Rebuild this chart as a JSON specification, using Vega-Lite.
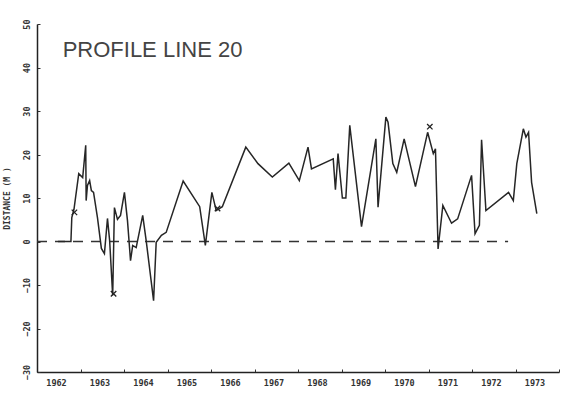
{
  "$schema": "https://vega.github.io/schema/vega-lite/v6.json",
  "width": 522,
  "height": 348,
  "autosize": "none",
  "padding": {"left": 37, "top": 24, "right": 2, "bottom": 21},
  "background": "white",
  "config": {"view": {"stroke": null}},
  "datasets": {
    "profile": [
      {"year": 1962.48, "dist": 0},
      {"year": 1962.78, "dist": 0},
      {"year": 1962.80, "dist": 5.5},
      {"year": 1962.85, "dist": 7.4},
      {"year": 1962.96, "dist": 15.6},
      {"year": 1963.05, "dist": 14.7},
      {"year": 1963.12, "dist": 22.1},
      {"year": 1963.13, "dist": 9.4},
      {"year": 1963.16, "dist": 12.9},
      {"year": 1963.21, "dist": 14.0},
      {"year": 1963.25, "dist": 11.7},
      {"year": 1963.30, "dist": 11.3},
      {"year": 1963.39, "dist": 5.5},
      {"year": 1963.48, "dist": -1.6},
      {"year": 1963.55, "dist": -2.8},
      {"year": 1963.62, "dist": 5.3},
      {"year": 1963.67, "dist": 0.2},
      {"year": 1963.74, "dist": -12.4},
      {"year": 1963.78, "dist": 7.8},
      {"year": 1963.85, "dist": 5.1},
      {"year": 1963.92, "dist": 6.0},
      {"year": 1964.01, "dist": 11.3},
      {"year": 1964.08, "dist": 4.8},
      {"year": 1964.15, "dist": -4.4},
      {"year": 1964.20, "dist": -0.9},
      {"year": 1964.28, "dist": -1.4},
      {"year": 1964.43, "dist": 6.0},
      {"year": 1964.51, "dist": 0.2},
      {"year": 1964.68, "dist": -13.6},
      {"year": 1964.74, "dist": -0.2},
      {"year": 1964.86, "dist": 1.4},
      {"year": 1964.97, "dist": 2.1},
      {"year": 1965.36, "dist": 13.9},
      {"year": 1965.74, "dist": 8.0},
      {"year": 1965.87, "dist": -0.9},
      {"year": 1966.02, "dist": 11.3},
      {"year": 1966.12, "dist": 7.1},
      {"year": 1966.26, "dist": 8.0},
      {"year": 1966.80, "dist": 21.7},
      {"year": 1967.08, "dist": 17.9},
      {"year": 1967.41, "dist": 14.8},
      {"year": 1967.79, "dist": 18.0},
      {"year": 1968.03, "dist": 14.0},
      {"year": 1968.23, "dist": 21.7},
      {"year": 1968.31, "dist": 16.7},
      {"year": 1968.81, "dist": 19.0},
      {"year": 1968.86, "dist": 11.9},
      {"year": 1968.92, "dist": 20.2},
      {"year": 1969.02, "dist": 10.0},
      {"year": 1969.10, "dist": 10.0},
      {"year": 1969.19, "dist": 26.7},
      {"year": 1969.46, "dist": 3.4},
      {"year": 1969.79, "dist": 23.6},
      {"year": 1969.84, "dist": 7.9},
      {"year": 1970.02, "dist": 28.6},
      {"year": 1970.07, "dist": 27.4},
      {"year": 1970.18, "dist": 17.9},
      {"year": 1970.27, "dist": 15.9},
      {"year": 1970.44, "dist": 23.6},
      {"year": 1970.70, "dist": 12.6},
      {"year": 1970.98, "dist": 25.1},
      {"year": 1971.11, "dist": 20.2},
      {"year": 1971.16, "dist": 21.3},
      {"year": 1971.22, "dist": -1.7},
      {"year": 1971.33, "dist": 8.3},
      {"year": 1971.53, "dist": 4.2},
      {"year": 1971.67, "dist": 5.2},
      {"year": 1971.99, "dist": 15.2},
      {"year": 1972.07, "dist": 1.8},
      {"year": 1972.17, "dist": 3.7},
      {"year": 1972.22, "dist": 23.4},
      {"year": 1972.32, "dist": 7.1},
      {"year": 1972.84, "dist": 11.3},
      {"year": 1972.95, "dist": 9.4},
      {"year": 1973.03, "dist": 17.9},
      {"year": 1973.18, "dist": 25.9},
      {"year": 1973.24, "dist": 24.0},
      {"year": 1973.30, "dist": 25.1},
      {"year": 1973.37, "dist": 13.6},
      {"year": 1973.49, "dist": 6.4}
    ],
    "marks": [
      {"year": 1962.86, "dist": 6.7},
      {"year": 1963.76, "dist": -12.0},
      {"year": 1966.15, "dist": 7.6},
      {"year": 1971.03, "dist": 26.4}
    ]
  },
  "layer": [
    {
      "data": {"values": [{}]},
      "mark": {"type": "rule", "stroke": "#333", "strokeWidth": 1.6, "strokeDash": [10, 8]},
      "encoding": {
        "x": {"datum": 1962, "type": "quantitative"},
        "x2": {"datum": 1972.83},
        "y": {"datum": 0, "type": "quantitative"}
      }
    },
    {
      "data": {"name": "profile"},
      "mark": {"type": "line", "stroke": "#262626", "strokeWidth": 1.5},
      "encoding": {
        "x": {
          "field": "year", "type": "quantitative",
          "scale": {"domain": [1962, 1974], "nice": false, "zero": false},
          "axis": {
            "title": null,
            "values": [1962, 1963, 1964, 1965, 1966, 1967, 1968, 1969, 1970, 1971, 1972, 1973, 1974],
            "format": "d",
            "labelExpr": "datum.value == 1974 ? '' : datum.label",
            "labelOffset": 19,
            "labelFlush": false,
            "labelOverlap": false,
            "labelFont": "DejaVu Sans Mono",
            "labelFontWeight": "bold",
            "labelFontSize": 8.5,
            "labelColor": "#333",
            "labelPadding": 9,
            "tickSize": -3,
            "tickColor": "#333",
            "domainColor": "#222",
            "domainWidth": 1.5,
            "grid": false
          }
        },
        "y": {
          "field": "dist", "type": "quantitative",
          "scale": {"domain": [-30, 50], "nice": false, "zero": false},
          "axis": {
            "title": "DISTANCE (M )",
            "titleFont": "DejaVu Sans Mono",
            "titleFontWeight": "bold",
            "titleFontSize": 8,
            "titleColor": "#333",
            "titlePadding": 11,
            "values": [-30, -20, -10, 0, 10, 20, 30, 40, 50],
            "labelAngle": -90,
            "labelAlign": "center",
            "labelBaseline": "bottom",
            "labelFlush": false,
            "labelOverlap": false,
            "labelFont": "DejaVu Sans Mono",
            "labelFontWeight": "bold",
            "labelFontSize": 8.5,
            "labelColor": "#333",
            "labelPadding": 9,
            "tickSize": -3,
            "tickColor": "#333",
            "domainColor": "#222",
            "domainWidth": 1.5,
            "grid": false
          }
        }
      }
    },
    {
      "data": {"name": "marks"},
      "mark": {"type": "point", "shape": "M -1 -1 L 1 1 M -1 1 L 1 -1", "size": 30, "stroke": "#222", "strokeWidth": 1.3, "filled": false, "opacity": 1},
      "encoding": {
        "x": {"field": "year", "type": "quantitative"},
        "y": {"field": "dist", "type": "quantitative"}
      }
    },
    {
      "data": {"values": [{}]},
      "mark": {"type": "text", "text": "PROFILE LINE 20", "font": "Liberation Sans", "fontSize": 22, "fontWeight": "normal", "align": "left", "baseline": "alphabetic", "color": "#444", "limit": 0},
      "encoding": {
        "x": {"datum": 1962.59, "type": "quantitative"},
        "y": {"datum": 42.4, "type": "quantitative"}
      }
    }
  ]
}
